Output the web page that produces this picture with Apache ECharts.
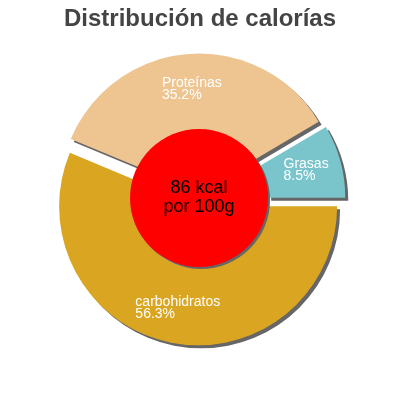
<!DOCTYPE html>
<html>
<head>
<meta charset="utf-8">
<script src="https://cdn.jsdelivr.net/npm/echarts@6/dist/echarts.min.js"></script>
<style>
  html, body { margin: 0; padding: 0; background: #fff; }
  #chart { width: 400px; height: 400px; }
</style>
</head>
<body>
<div id="chart"></div>
<script>
const nutrients = ["carbohidratos", "Proteínas", "Grasas"];
const shares = [56.3, 35.2, 8.5];
const sliceColors = ["#DAA520", "#EEC591", "#7AC4CC"];
const energyKcal = 86;
const energyUnit = "kcal";
const perAmount = "por 100g";

window.addEventListener("load", function () {
  const myChart = echarts.init(document.getElementById("chart"));

  const slices = nutrients.map(function (name, i) {
    return {
      name: name,
      value: shares[i],
      selected: true,
      itemStyle: { color: sliceColors[i] },
    };
  });

  const option = {
    animation: false,
    title: {
      text: "Distribución de calorías",
      left: "center",
      top: 2,
      textStyle: {
        fontFamily: "Liberation Sans, Arial, sans-serif",
        fontSize: 24,
        fontWeight: "bold",
        color: "#444444",
      },
    },
    series: [
      {
        type: "pie",
        z: 2,
        center: [199.5, 199.5],
        radius: [62, 139],
        startAngle: 0,
        clockwise: true,
        selectedMode: "multiple",
        selectedOffset: 7,
        silent: true,
        itemStyle: {
          borderWidth: 0,
          shadowColor: "#666666",
          shadowBlur: 0,
          shadowOffsetX: 3,
          shadowOffsetY: 3,
        },
        label: {
          position: "inside",
          formatter: function (p) {
            return "{a|" + p.name + "}\n{a|" + p.value.toFixed(1) + "%}";
          },
          rich: {
            a: {
              fontFamily: "Liberation Sans, Arial, sans-serif",
              fontSize: 14,
              lineHeight: 12,
              color: "#ffffff",
              align: "left",
            },
          },
        },
        labelLine: { show: false },
        data: slices,
      },
      {
        // red disc on top of the ring
        type: "pie",
        z: 10,
        center: [199, 198],
        radius: [0, 69],
        silent: true,
        itemStyle: {
          color: "#ff0000",
          shadowColor: "#666666",
          shadowBlur: 0,
          shadowOffsetX: 2,
          shadowOffsetY: 2,
        },
        label: {
          position: "center",
          formatter: energyKcal + " " + energyUnit + "\n" + perAmount,
          fontFamily: "Liberation Sans, Arial, sans-serif",
          fontSize: 18,
          lineHeight: 19,
          color: "#000000",
        },
        labelLine: { show: false },
        data: [{ name: "energia", value: energyKcal }],
      },
    ],
  };
  myChart.setOption(option);
});
</script>
</body>
</html>
